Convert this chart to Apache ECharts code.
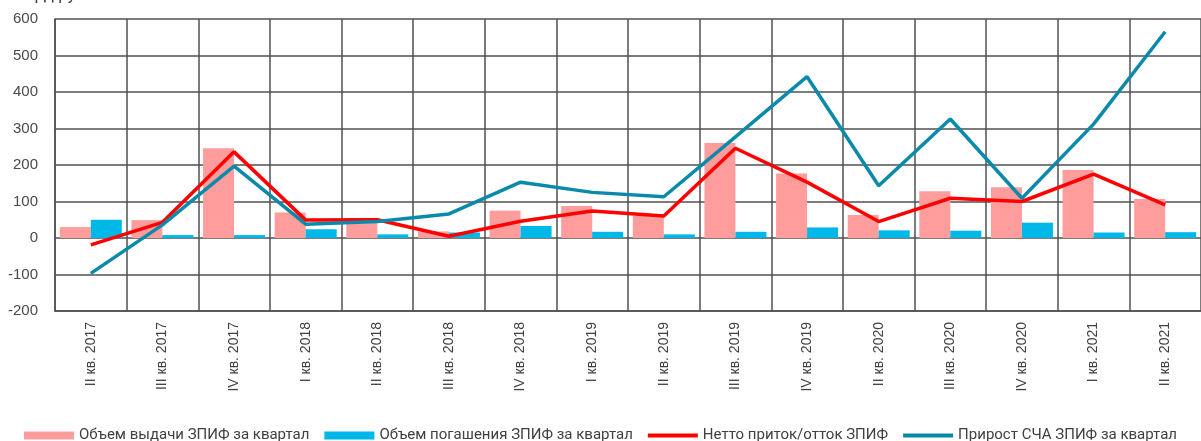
<!DOCTYPE html>
<html>
<head>
<meta charset="utf-8">
<script src="https://cdn.jsdelivr.net/npm/echarts@6/dist/echarts.min.js"></script>
<style>
  html, body { margin: 0; padding: 0; background: #fff; }
  #chart { width: 1201px; height: 441px; }
</style>
</head>
<body>
<div id="chart"></div>
<script>
const categories = [
  'II кв. 2017', 'III кв. 2017', 'IV кв. 2017', 'I кв. 2018', 'II кв. 2018',
  'III кв. 2018', 'IV кв. 2018', 'I кв. 2019', 'II кв. 2019', 'III кв. 2019',
  'IV кв. 2019', 'II кв. 2020', 'III кв. 2020', 'IV кв. 2020', 'I кв. 2021', 'II кв. 2021'
]
const issueValues = [30, 49, 246, 70, 55, 18, 75, 88, 61, 260, 177, 63, 128, 139, 186, 107]
const redemptionValues = [50, 8, 8, 24, 10, 15, 33, 17, 10, 17, 29, 21, 20, 42, 15, 16]
const netFlowValues = [-19, 43, 236, 49, 50, 5, 46, 74, 60, 246, 153, 45, 109, 100, 175, 91]
const navGrowthValues = [-97, 36, 197, 38, 45, 66, 153, 125, 113, 277, 442, 143, 326, 109, 312, 565]

const seriesNames = [
  'Объем выдачи ЗПИФ за квартал',
  'Объем погашения ЗПИФ за квартал',
  'Нетто приток/отток ЗПИФ',
  'Прирост СЧА ЗПИФ за квартал'
]

const font = 'Roboto, "Open Sans", sans-serif'
const axisFont = '"Liberation Sans", Arial, sans-serif'
const lineIcon = 'path://M0,0 L50,0 L50,4 L0,4 Z'

const chart = echarts.init(document.getElementById('chart'))
chart.setOption({
  animation: false,
  textStyle: { fontFamily: font },
  graphic: [{
    type: 'text',
    left: 12,
    top: -13,
    style: { text: 'млрд руб.', fontSize: 17, fill: '#404040', fontFamily: font }
  }],
  grid: { left: 55, top: 19, bottom: 130, right: -6, containLabel: false },
  legend: {
    top: 423,
    left: 'center',
    itemWidth: 50,
    itemHeight: 8,
    itemGap: 15,
    textStyle: { fontSize: 15, color: '#404040', fontFamily: font },
    data: [
      { name: seriesNames[0], icon: 'rect' },
      { name: seriesNames[1], icon: 'rect' },
      { name: seriesNames[2], icon: lineIcon },
      { name: seriesNames[3], icon: lineIcon }
    ]
  },
  xAxis: [{
    type: 'category',
    data: categories,
    boundaryGap: true,
    axisTick: { show: false },
    axisLine: { onZero: false, lineStyle: { color: '#505050', width: 1.5 } },
    axisLabel: { rotate: 90, fontSize: 14, color: '#404040', margin: 11, interval: 0, fontFamily: axisFont },
    splitLine: { show: true, interval: 0, lineStyle: { color: '#505050', width: 1.5 } }
  }],
  yAxis: [{
    type: 'value',
    min: -200,
    max: 600,
    interval: 100,
    axisTick: { show: false },
    axisLine: { show: true, lineStyle: { color: '#505050', width: 1.5 } },
    axisLabel: { fontSize: 15, color: '#4a4a4a', margin: 17, fontFamily: axisFont },
    splitLine: { lineStyle: { color: '#505050', width: 1.5 } }
  }],
  series: [
    {
      name: seriesNames[0],
      type: 'bar',
      data: issueValues,
      barWidth: 31,
      barGap: '0%',
      itemStyle: { color: '#ff9d9d' }
    },
    {
      name: seriesNames[1],
      type: 'bar',
      data: redemptionValues,
      barWidth: 31,
      barGap: '0%',
      itemStyle: { color: '#00b8e8' }
    },
    {
      name: seriesNames[2],
      type: 'line',
      data: netFlowValues,
      symbol: 'none',
      z: 3,
      lineStyle: { color: '#ff0000', width: 3.5 },
      itemStyle: { color: '#ff0000' }
    },
    {
      name: seriesNames[3],
      type: 'line',
      data: navGrowthValues,
      symbol: 'none',
      z: 4,
      lineStyle: { color: '#0a8aab', width: 3.5 },
      itemStyle: { color: '#0a8aab' }
    }
  ]
})
</script>
</body>
</html>
